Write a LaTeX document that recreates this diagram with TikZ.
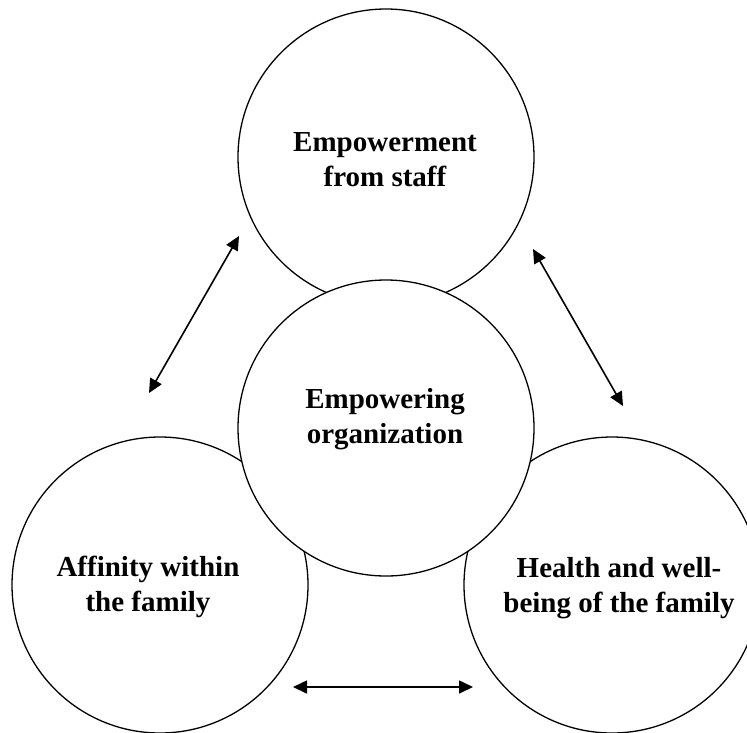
\documentclass[tikz,border=0pt]{standalone}
\usepackage{fontspec}
\setmainfont{Liberation Serif}
\usetikzlibrary{arrows.meta}
\begin{document}
\begin{tikzpicture}[x=1pt,y=-1pt,
  ring/.style={circle,draw=black,line width=1.3pt,fill=white,minimum size=296pt,inner sep=0pt},
  caption/.style={align=center,font=\bfseries\fontsize{29}{35}\selectfont,inner sep=0pt},
  link/.style={line width=1.6pt,{Triangle[length=14pt,width=13pt]}-{Triangle[length=14pt,width=13pt]}}]
  \useasboundingbox (0,0) rectangle (747,732);
  \clip (0,0) rectangle (747,732);
  % outer circles, the central one is drawn last so it covers them
  \node[ring] (staff) at (386,157) {};
  \node[ring] (affinity) at (160,585) {};
  \node[ring] (health) at (612,585) {};
  \node[ring] (org) at (386,428) {};
  % labels
  \node[caption] (tstaff) at (385,159.5) {Empowerment\\from staff};
  \node[caption] (torg) at (385,419) {Empowering\\organization};
  \node[caption] (taff) at (148,586.5) {Affinity within\\the family};
  \node[caption] (thealth) at (619,588.5) {Health and well-\\being of the family};
  % ends of the double arrows
  \coordinate (la) at (239,236);
  \coordinate (lb) at (149,393);
  \coordinate (ra) at (533,249);
  \coordinate (rb) at (623,406);
  \coordinate (ba) at (293,687);
  \coordinate (bb) at (473,687);
  \draw[link] (la) -- (lb);
  \draw[link] (ra) -- (rb);
  \draw[link] (ba) -- (bb);
\end{tikzpicture}
\end{document}
